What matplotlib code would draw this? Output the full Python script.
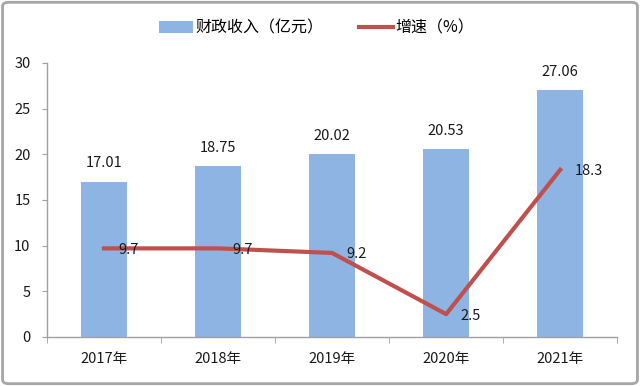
import matplotlib
matplotlib.use("Agg")
import matplotlib.pyplot as plt
from matplotlib.patches import FancyBboxPatch
import numpy as np

plt.rcParams['font.family'] = ['Noto Sans CJK SC', 'DejaVu Sans']

years = ["2017年", "2018年", "2019年", "2020年", "2021年"]
revenue = [17.01, 18.75, 20.02, 20.53, 27.06]
growth = [9.7, 9.7, 9.2, 2.5, 18.3]
yticks = [0, 5, 10, 15, 20, 25, 30]

bar_color = "#8DB4E2"
line_color = "#C0504D"
grid_gray = "#A0A0A0"
text_color = "#1a1a1a"
fs = 10.5

fig = plt.figure(figsize=(6.4, 3.86), dpi=100)
fig.patch.set_facecolor("white")
border = FancyBboxPatch((0.004, 0.006), 0.992, 0.988, boxstyle="round,pad=0,rounding_size=0.01",
                        transform=fig.transFigure, fill=False, edgecolor="#A6A6A6", linewidth=2)
fig.patches.append(border)

ax = fig.add_axes([0.0734, 0.127, 0.891, 0.710])
x = np.arange(len(years))
bars = ax.bar(x, revenue, width=0.4, color=bar_color, label="财政收入（亿元）", zorder=2)
line, = ax.plot(x, growth, color=line_color, linewidth=3, label="增速（%）", zorder=3)

for xi, v in zip(x, revenue):
    ax.annotate(f"{v:.2f}", (xi, v), xytext=(0, 8), textcoords="offset points",
                ha="center", va="bottom", fontsize=fs, color=text_color)
for xi, v in zip(x, growth):
    ax.annotate(f"{v:g}", (xi, v), xytext=(10.5, -1), textcoords="offset points",
                ha="left", va="center", fontsize=fs, color=text_color, zorder=4)

ax.set_xlim(-0.5, len(years) - 0.5)
ax.set_ylim(0, 30)
ax.set_yticks(yticks)
ax.set_yticklabels([str(t) for t in yticks], fontsize=fs, color=text_color)
ax.set_xticks(x)
ax.set_xticklabels(years, fontsize=fs, color=text_color)
ax.tick_params(axis="x", length=0, pad=11)
ax.set_xticks(np.arange(-0.5, len(years)), minor=True)
ax.tick_params(axis="x", which="minor", length=4.5, color=grid_gray, direction="out")
ax.tick_params(axis="y", length=3.8, color=grid_gray, direction="out", pad=8)

for s in ["top", "right"]:
    ax.spines[s].set_visible(False)
for s in ["left", "bottom"]:
    ax.spines[s].set_color(grid_gray)
    ax.spines[s].set_linewidth(1)

fig.legend(handles=[bars, line], labels=["财政收入（亿元）", "增速（%）"], loc="center",
           bbox_to_anchor=(0.495, 0.927), ncol=2, frameon=False, fontsize=11.5,
           handlelength=2.1, handleheight=0.7, columnspacing=2.2, handletextpad=0.2)

fig.savefig("out.png", dpi=100)
